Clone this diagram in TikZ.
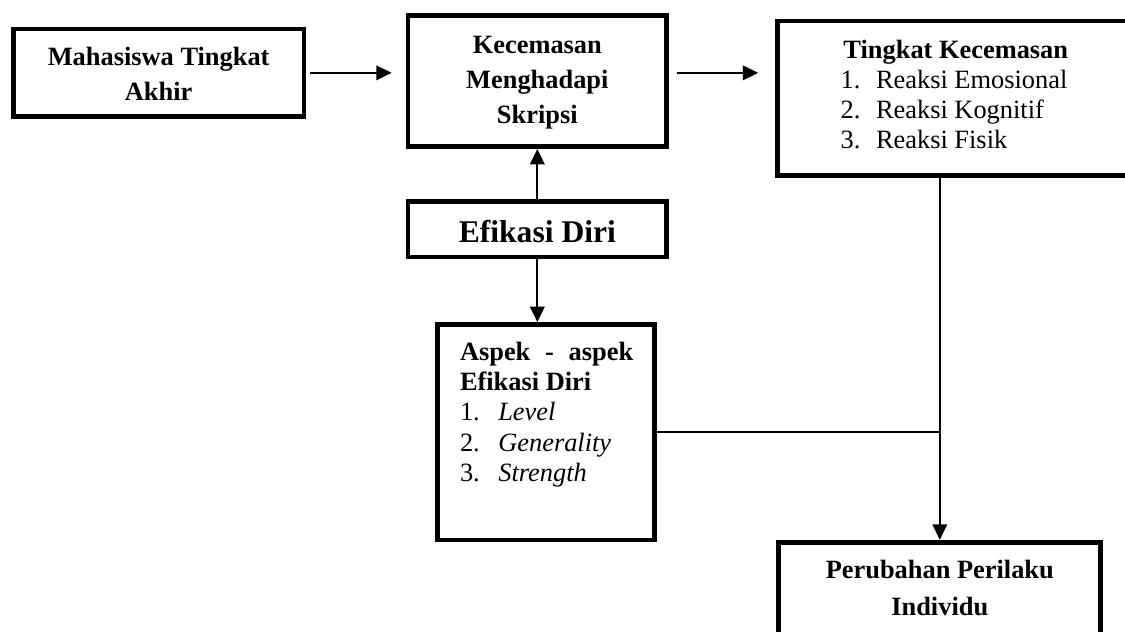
\documentclass[tikz,border=0pt]{standalone}
\usepackage{fontspec}
\setmainfont{Liberation Serif}
\usetikzlibrary{arrows.meta}
\begin{document}
\begin{tikzpicture}[x=0.5pt,y=-0.5pt,
  box/.style={draw=black, line width=2.4pt, inner sep=0pt, fill=white},
  link/.style={draw=black, line width=1.1pt},
  conn/.style={link, -{Triangle[length=7.7pt,width=7.2pt]}}]
\useasboundingbox (0,0) rectangle (1125,632);
\clip (0,0) rectangle (1125,632);
\fill[white] (0,0) rectangle (1125,632);

\node[box] (mahasiswa) at (158.65,72.85) {\begin{minipage}[c][43.85pt][t]{145.35pt}\centering\fontsize{13.2}{17.5}\selectfont\bfseries
\rule{0pt}{18pt}Mahasiswa Tingkat\\Akhir\end{minipage}};

\node[box] (kecemasan) at (537.35,81.15) {\begin{minipage}[c][65.35pt][t]{129.35pt}\centering\fontsize{13.2}{17.5}\selectfont\bfseries
\rule{0pt}{18.75pt}Kecemasan\\Menghadapi\\Skripsi\end{minipage}};

\node[box] (efikasi) at (537.35,229.25) {\begin{minipage}[c][27.75pt][t]{129.35pt}\centering\fontsize{15.8}{19}\selectfont\bfseries
\rule{0pt}{20.6pt}Efikasi Diri\end{minipage}};

\node[box] (tingkat) at (955.8,98.15) {\begin{minipage}[c][77.15pt][t]{178pt}\fontsize{13.2}{15}\selectfont
\centering\rule{0pt}{18.5pt}\textbf{Tingkat Kecemasan}\par
\raggedright\leftskip=31.45pt
\makebox[17.65pt][l]{1.}Reaksi Emosional\par
\makebox[17.65pt][l]{2.}Reaksi Kognitif\par
\makebox[17.65pt][l]{3.}Reaksi Fisik\par\end{minipage}};

\node[box] (aspek) at (546.3,432.25) {\begin{minipage}[c][107.75pt][t]{108.5pt}\fontsize{13.2}{15.2}\selectfont
\raggedright\leftskip=11.1pt
\rule{0pt}{17.75pt}\makebox[86.65pt][s]{\bfseries Aspek - aspek}\par
\textbf{Efikasi Diri}\par
\makebox[19.15pt][l]{1.}\textit{Level}\par
\makebox[19.15pt][l]{2.}\textit{Generality}\par
\makebox[19.15pt][l]{3.}\textit{Strength}\par\end{minipage}};

\node[box] (perubahan) at (939.8,591.1) {\begin{minipage}[c][48.9pt][t]{161pt}\centering\fontsize{13.2}{18.35}\selectfont\bfseries
\rule{0pt}{18.05pt}Perubahan Perilaku\\Individu\end{minipage}};

\draw[conn, shorten <=1.8pt, shorten >=6.95pt] (mahasiswa.east) -- (mahasiswa.east -| kecemasan.west);
\draw[conn, shorten <=3.8pt, shorten >=8.55pt] (kecemasan.east |- mahasiswa.east) -- (tingkat.west |- mahasiswa.east);
\draw[conn] (efikasi.north) -- (kecemasan.south);
\draw[conn] (efikasi.south) -- (efikasi.south |- aspek.north);
\coordinate (junction) at (perubahan.north |- aspek.east);
\draw[link] (aspek.east) -- (junction);
\draw[conn] (tingkat.south -| perubahan.north) -- (perubahan.north);
\end{tikzpicture}
\end{document}
